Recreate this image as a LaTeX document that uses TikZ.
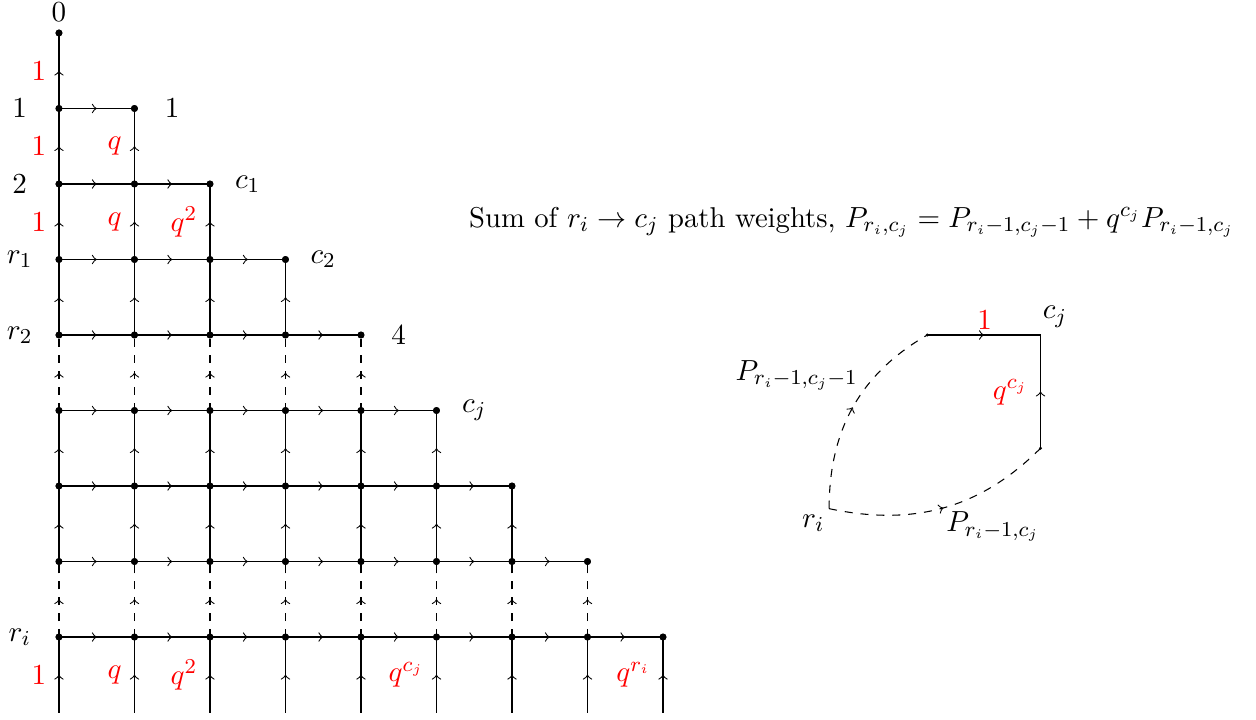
\documentclass[tikz,border=0pt]{standalone}
\usetikzlibrary{decorations.markings}
\tikzset{
  midarrow/.style={postaction={decorate},decoration={markings,mark=at position 0.5 with {\arrow{>}}}},
  seg/.style={midarrow},
  dseg/.style={midarrow,dashed},
  dot/.style={circle,fill,inner sep=0pt,minimum size=2.6pt},
  wlabel/.style={text=red,left=1pt},
  tdot/.style={circle,fill,inner sep=0pt,minimum size=1.2pt},
}
\begin{document}
\fontsize{10.8pt}{13pt}\selectfont
\begin{tikzpicture}
\useasboundingbox (-0.781,-1.086) rectangle (15.854,8.437);
% grid points
\foreach \y in {0,...,8} {
  \pgfmathtruncatemacro\m{8-\y}
  \foreach \x in {0,...,\m} { \node[dot] (v\x-\y) at (\x,\y) {}; }
}
% horizontal edges
\foreach \y in {0,...,7} {
  \pgfmathtruncatemacro\m{7-\y}
  \foreach \x in {0,...,\m} {
    \pgfmathtruncatemacro\n{\x+1}
    \draw[seg] (v\x-\y.center) -- (v\n-\y.center);
  }
}
% vertical edges
\foreach \y in {1,...,8} {
  \pgfmathtruncatemacro\m{8-\y}
  \pgfmathtruncatemacro\p{\y-1}
  \foreach \x in {0,...,\m} {
    \ifnum\y=1 \def\st{dseg}\else\ifnum\y=4 \def\st{dseg}\else\def\st{seg}\fi\fi
    \draw[\st] (v\x-\p.center) -- (v\x-\y.center);
  }
}
% bottom open edges
\foreach \x in {0,...,8} {
  \coordinate (b\x) at (\x,-1);
  \draw[seg] (b\x) -- (v\x-0.center);
}
% redraw dots on top
\foreach \y in {0,...,8} {
  \pgfmathtruncatemacro\m{8-\y}
  \foreach \x in {0,...,\m} { \fill (v\x-\y.center) circle (1.3pt); }
}
% red weights
\node[wlabel] (w1) at (0,7.5) {$1$};
\node[wlabel] (w2) at (0,6.5) {$1$};
\node[wlabel] (w3) at (1,6.5) {$q$};
\node[wlabel] (w4) at (0,5.5) {$1$};
\node[wlabel] (w5) at (1,5.5) {$q$};
\node[wlabel] (w6) at (2,5.5) {$q^2$};
\node[wlabel] (w7) at (0,-0.5) {$1$};
\node[wlabel] (w8) at (1,-0.5) {$q$};
\node[wlabel] (w9) at (2,-0.5) {$q^2$};
\node[wlabel] (w10) at (5,-0.5) {$q^{c_j}$};
\node[wlabel] (w11) at (8,-0.5) {$q^{r_i}$};
% black labels
\node (l0) at (0,8.28) {$0$};
\node (la) at (-0.52,7) {$1$};
\node (lb) at (-0.52,6) {$2$};
\node (lc) at (-0.52,5) {$r_1$};
\node (ld) at (-0.52,4) {$r_2$};
\node (le) at (-0.52,0) {$r_i$};
\node (ra) at (1.5,7) {$1$};
\node (rb) at (2.5,6) {$c_1$};
\node (rc) at (3.5,5) {$c_2$};
\node (rd) at (4.5,4) {$4$};
\node (re) at (5.5,3) {$c_j$};
% right diagram
\node (title) at (10.5,5.5) {Sum of $r_i \to c_j$ path weights, $P_{r_i,c_j} = P_{r_i-1,c_j-1} + q^{c_j} P_{r_i-1,c_j}$};
\coordinate (A) at (11.5,4);
\coordinate (C) at (13,4);
\coordinate (B) at (13,2.5);
\coordinate (R) at (10.2,1.7);
\draw[seg] (A) -- (C);
\draw[seg] (B) -- (C);
\draw[dseg] (R) to[out=90,in=210] (A);
\draw[dseg] (R) to[out=-12,in=225] (B);
\node[tdot] (Ad) at (A) {};
\node[tdot] (Bd) at (B) {};
\node (p1) at (9.77,3.47) {$P_{r_i-1,c_j-1}$};
\node (ri) at (9.99,1.51) {$r_i$};
\node (p2) at (12.37,1.46) {$P_{r_i-1,c_j}$};
\node[text=red] (one) at (12.26,4.2) {$1$};
\node (cj) at (13.19,4.24) {$c_j$};
\node[text=red] (qc) at (12.6,3.24) {$q^{c_j}$};
\end{tikzpicture}
\end{document}
